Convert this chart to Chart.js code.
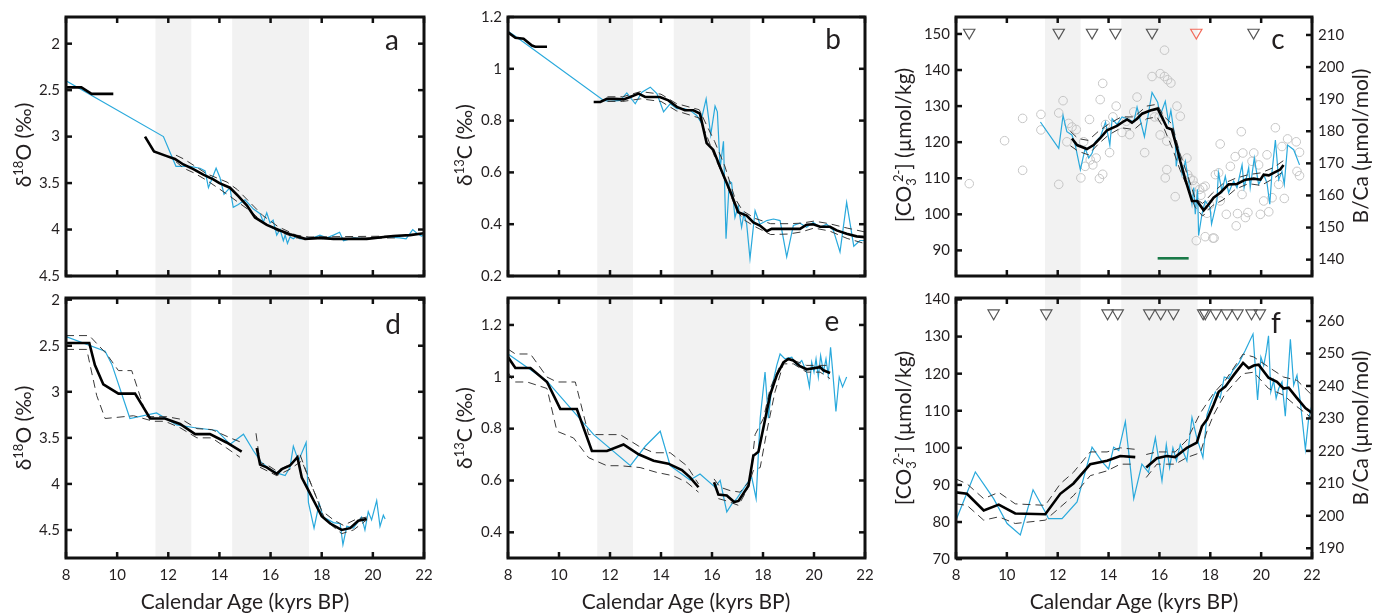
<!DOCTYPE html>
<html>
<head>
<meta charset="utf-8">
<script src="https://cdn.jsdelivr.net/npm/chart.js@4.4.1/dist/chart.umd.min.js"></script>
<style>
body { margin: 0; background: #fff; width: 1380px; height: 613px; position: relative; overflow: hidden; font-family: Lato, 'Open Sans', sans-serif; color: #231f20; }
canvas { position: absolute; }
.lbl { position: absolute; white-space: nowrap; transform: translate(-50%, -50%); line-height: 1; }
.yt { font-size: 21px; transform: translate(-50%, -50%) rotate(-90deg); }
.xt { font-size: 21px; }
.let { font-size: 28px; }
sup, sub { font-size: 0.62em; line-height: 0; }
</style>
</head>
<body>
<script>
// shared axis / shading
const ageTicks = [8, 10, 12, 14, 16, 18, 20, 22];
const bands = [[11.5, 12.9], [14.5, 17.5]];

// panel a: d18O
const aTicks = [2, 2.5, 3, 3.5, 4, 4.5];
const aMeanTop = [[8, 2.47], [8.6, 2.47], [9.0, 2.54], [9.85, 2.54]];
const aMean = [[11.09, 3.0], [11.44, 3.16], [11.94, 3.21], [12.26, 3.24], [12.59, 3.30], [12.98, 3.35], [13.37, 3.41], [13.76, 3.46], [14.0, 3.50], [14.41, 3.55], [14.74, 3.64], [15.07, 3.74], [15.39, 3.87], [15.85, 3.95], [16.37, 4.01], [16.76, 4.05], [17.35, 4.10], [17.93, 4.09], [18.46, 4.10], [19.76, 4.10], [20.8, 4.07], [21.45, 4.06], [22, 4.04]];
const aBlue = [[8, 2.40], [11.81, 3.0], [12.3, 3.32], [12.52, 3.32], [12.85, 3.32], [13.24, 3.34], [13.44, 3.37], [13.57, 3.55], [13.7, 3.46], [13.87, 3.34], [14.02, 3.44], [14.18, 3.62], [14.41, 3.55], [14.54, 3.76], [14.74, 3.73], [15.0, 3.68], [15.33, 3.78], [15.59, 3.83], [15.72, 3.92], [15.85, 3.82], [15.98, 3.93], [16.1, 3.90], [16.24, 4.06], [16.37, 4.0], [16.5, 4.12], [16.57, 4.06], [16.66, 4.15], [16.76, 4.08], [16.89, 4.1], [17.02, 4.07], [17.15, 4.10], [17.67, 4.09], [17.93, 4.06], [18.2, 4.09], [18.46, 4.06], [18.7, 4.03], [18.85, 4.12], [19.24, 4.09], [19.76, 4.10], [20.15, 4.09], [20.54, 4.08], [21.06, 4.09], [21.3, 4.10], [21.56, 4.0], [21.72, 4.04], [21.9, 4.07], [22, 4.06]];
const aDashA = [[12.3, 3.20], [12.6, 3.24], [13.0, 3.31], [13.5, 3.40], [14.3, 3.49], [14.7, 3.57], [15.2, 3.71], [15.7, 3.85], [16.3, 3.97], [17.0, 4.06], [17.5, 4.08], [21, 4.07]];
const aDashB = [[12.3, 3.27], [12.6, 3.34], [13.0, 3.39], [13.5, 3.47], [14.3, 3.62], [14.7, 3.70], [15.2, 3.80], [15.7, 3.92], [16.3, 4.02], [17.0, 4.09], [17.5, 4.10], [21, 4.09]];

// panel b: d13C
const bTicks = [0.2, 0.4, 0.6, 0.8, 1, 1.2];
const bMeanTop = [[8, 1.141], [8.29, 1.12], [8.61, 1.116], [8.94, 1.09], [9.07, 1.085], [9.53, 1.085]];
const bMean = [[11.36, 0.872], [11.62, 0.872], [11.88, 0.884], [12.14, 0.884], [12.53, 0.882], [12.79, 0.891], [13.12, 0.904], [13.38, 0.891], [13.96, 0.891], [14.29, 0.878], [14.62, 0.853], [14.94, 0.84], [15.27, 0.84], [15.53, 0.827], [15.6, 0.795], [15.79, 0.713], [16.05, 0.687], [16.38, 0.605], [16.71, 0.528], [17.03, 0.446], [17.36, 0.433], [17.62, 0.407], [17.88, 0.395], [18.15, 0.373], [18.34, 0.382], [18.67, 0.382], [19.19, 0.382], [19.45, 0.382], [19.71, 0.398], [19.97, 0.4], [20.24, 0.39], [20.63, 0.39], [20.89, 0.376], [21.28, 0.363], [21.67, 0.353], [22, 0.35]];
const bBlue = [[8, 1.145], [8.29, 1.126], [11.75, 0.878], [12.01, 0.874], [12.4, 0.878], [12.66, 0.907], [12.99, 0.865], [13.25, 0.91], [13.58, 0.929], [13.84, 0.904], [14.1, 0.834], [14.36, 0.865], [14.62, 0.846], [14.88, 0.846], [15.14, 0.84], [15.4, 0.82], [15.56, 0.795], [15.77, 0.884], [15.95, 0.745], [16.12, 0.856], [16.21, 0.834], [16.32, 0.617], [16.45, 0.72], [16.55, 0.344], [16.68, 0.566], [16.77, 0.56], [16.9, 0.426], [17.03, 0.471], [17.16, 0.388], [17.25, 0.44], [17.36, 0.4], [17.49, 0.267], [17.69, 0.452], [17.88, 0.4], [18.15, 0.414], [18.41, 0.42], [18.67, 0.414], [18.93, 0.274], [19.19, 0.395], [19.45, 0.404], [19.71, 0.388], [19.97, 0.407], [20.24, 0.388], [20.5, 0.4], [20.76, 0.376], [21.02, 0.293], [21.28, 0.484], [21.56, 0.315], [21.8, 0.337], [22, 0.337]];
const bDashA = [[11.9, 0.892], [12.5, 0.892], [13.2, 0.912], [14.0, 0.902], [14.6, 0.866], [15.5, 0.842], [15.8, 0.78], [16.1, 0.72], [16.5, 0.625], [16.9, 0.5], [17.2, 0.452], [17.7, 0.422], [18.3, 0.402], [19.0, 0.402], [19.5, 0.404], [20.0, 0.412], [20.6, 0.402], [21.3, 0.385], [22, 0.37]];
const bDashB = [[11.9, 0.874], [12.5, 0.874], [13.2, 0.884], [14.0, 0.874], [14.6, 0.838], [15.5, 0.81], [15.8, 0.74], [16.1, 0.662], [16.5, 0.572], [16.9, 0.47], [17.2, 0.42], [17.7, 0.39], [18.3, 0.36], [19.0, 0.362], [19.5, 0.37], [20.0, 0.385], [20.6, 0.374], [21.3, 0.345], [22, 0.325]];

// panel c: [CO3 2-] and B/Ca
const cTicks = [90, 100, 110, 120, 130, 140, 150];
const cTicksR = [140, 150, 160, 170, 180, 190, 200, 210];
const cTriAge = [8.52, 12.04, 13.35, 14.27, 15.71, 19.7];
const cRedTriAge = [17.45];
const cMean = [[12.56, 121.0], [12.76, 119.2], [13.15, 118.1], [13.41, 119.2], [13.68, 121.2], [13.94, 123.3], [14.33, 124.5], [14.6, 125.8], [14.73, 126.3], [14.92, 125.4], [15.12, 126.5], [15.32, 127.9], [15.64, 128.8], [15.93, 129.3], [16.03, 127.9], [16.3, 124.0], [16.49, 123.5], [16.66, 119.2], [16.82, 114.7], [17.02, 109.6], [17.28, 103.7], [17.48, 103.7], [17.74, 101.1], [17.94, 102.8], [18.13, 104.6], [18.39, 106.0], [18.72, 108.3], [19.05, 108.4], [19.38, 109.6], [19.71, 109.9], [19.97, 109.6], [20.1, 111.0], [20.3, 110.8], [20.49, 111.5], [20.75, 112.4], [20.88, 113.7]];
const cBlue = [[11.32, 125.6], [12.04, 118.3], [12.21, 127.4], [12.36, 122.9], [12.56, 122], [12.69, 119.2], [12.89, 112.4], [13.08, 118.3], [13.22, 115.6], [13.35, 116.9], [13.48, 120.1], [13.68, 121.5], [13.88, 125.6], [14.05, 119.2], [14.14, 126.5], [14.33, 124.9], [14.53, 127], [14.73, 126.5], [14.99, 125.6], [15.12, 129.7], [15.41, 121.5], [15.71, 133.8], [15.93, 131.1], [16.03, 127.4], [16.23, 131.3], [16.36, 125.6], [16.45, 128.8], [16.62, 120.6], [16.66, 113.3], [16.76, 117.9], [16.89, 111.0], [17.02, 114.7], [17.15, 109.2], [17.28, 102.8], [17.35, 107.4], [17.41, 100.0], [17.5, 106.9], [17.54, 94.1], [17.67, 100.0], [17.8, 103.7], [17.99, 101.9], [18.05, 97.3], [18.26, 103.7], [18.32, 111.5], [18.46, 106.4], [18.59, 110.5], [18.72, 106.0], [18.92, 109.2], [19.05, 107.4], [19.25, 113.7], [19.33, 107.4], [19.51, 112.9], [19.57, 107.4], [19.73, 115.6], [19.9, 108.3], [20.1, 111.0], [20.23, 108.7], [20.34, 102.8], [20.43, 111.9], [20.56, 120.6], [20.69, 109.6], [20.82, 111.9], [20.91, 108.3], [21.04, 119.2], [21.28, 117.9], [21.51, 113.7]];
const cDashA = [[12.5, 123], [12.8, 121], [13.2, 120.5], [13.6, 123], [14.0, 125], [14.5, 127], [15.0, 127], [15.5, 130], [15.9, 130.5], [16.2, 127], [16.5, 125], [16.8, 117], [17.1, 111], [17.4, 104.5], [17.7, 103], [18.1, 106], [18.5, 108.5], [19, 110], [19.5, 111], [20, 111.5], [20.5, 113], [20.9, 115]];
const cDashB = [[12.5, 119], [12.8, 117.5], [13.2, 116.5], [13.6, 119.5], [14.0, 122], [14.5, 124], [15.0, 123.5], [15.5, 126.5], [15.9, 127], [16.2, 123.5], [16.5, 118.5], [16.8, 112.5], [17.1, 107.5], [17.4, 102], [17.7, 99.5], [18.1, 102.5], [18.5, 104], [19, 107], [19.5, 108.5], [20, 108], [20.5, 110], [20.9, 112]];
const cGreen = [[15.93, 87.8], [17.15, 87.8]];
const cCircles = [[8.52, 108.5], [9.91, 120.4], [10.62, 112.2], [10.62, 126.6], [11.34, 127.7], [11.34, 123.4], [12.04, 128.1], [12.04, 108.3], [12.21, 131.5], [12.36, 120.1], [12.43, 125.2], [12.56, 124.2], [12.73, 123.5], [12.91, 110.1], [13.02, 120.1], [13.08, 113.3], [13.25, 126.3], [13.28, 115.1], [13.38, 113.7], [13.51, 115.6], [13.64, 109.9], [13.67, 131.8], [13.77, 111.1], [13.77, 136.3], [13.88, 124.9], [14.04, 117.1], [14.17, 127.0], [14.30, 130.0], [14.53, 122.7], [14.70, 125.8], [14.83, 122.1], [14.99, 128.4], [15.12, 132.5], [15.42, 117.1], [15.71, 138.2], [15.81, 127.0], [15.99, 127.0], [16.03, 122.0], [16.03, 139.0], [16.20, 138.2], [16.20, 145.5], [16.32, 137.3], [16.45, 136.4], [16.29, 120.3], [16.29, 112.4], [16.23, 110.1], [16.62, 104.9], [16.69, 130.0], [16.82, 127.2], [17.08, 115.6], [17.11, 111.0], [17.21, 109.9], [17.32, 109.4], [17.41, 107.8], [17.45, 92.7], [17.58, 106.9], [17.63, 105.3], [17.71, 107.4], [17.80, 107.8], [17.80, 93.8], [17.87, 100.3], [17.97, 102.6], [18.10, 93.4], [18.15, 93.4], [18.20, 111.0], [18.33, 111.5], [18.39, 119.5], [18.39, 103.7], [18.63, 100.0], [18.79, 113.3], [18.98, 116.0], [19.02, 96.8], [19.07, 100.2], [19.22, 122.9], [19.25, 105.5], [19.28, 117.0], [19.38, 99.1], [19.48, 100.5], [19.64, 114.7], [19.71, 117.0], [19.90, 113.7], [19.97, 100.0], [20.10, 103.7], [20.23, 116.5], [20.30, 100.7], [20.43, 104.6], [20.56, 124.0], [20.69, 108.3], [20.82, 118.8], [20.91, 104.4], [21.04, 120.9], [21.38, 120.1], [21.41, 111.9], [21.51, 117.2], [21.51, 110.7]];

// panel d: d18O
const dTicks = [2, 2.5, 3, 3.5, 4, 4.5];
const dMean1 = [[8, 2.47], [8.91, 2.47], [9.13, 2.71], [9.46, 2.92], [10.05, 3.02], [10.70, 3.02], [11.29, 3.29], [11.87, 3.29], [12.46, 3.35], [13.05, 3.46], [13.63, 3.46], [14.28, 3.55], [14.87, 3.65]];
const dMean2 = [[15.46, 3.61], [15.59, 3.79], [15.85, 3.82], [16.24, 3.89], [16.44, 3.84], [16.76, 3.80], [17.05, 3.71], [17.22, 3.93], [17.48, 4.07], [17.74, 4.21], [18.0, 4.35], [18.33, 4.43], [18.78, 4.5], [19.11, 4.48], [19.43, 4.40], [19.76, 4.38]];
const dBlue = [[8, 2.40], [9.53, 2.56], [9.79, 2.70], [10.5, 3.29], [11.54, 3.23], [12.33, 3.36], [13.05, 3.39], [13.9, 3.42], [14.42, 3.57], [14.94, 3.46], [15.33, 3.64], [15.65, 3.77], [15.98, 3.84], [16.24, 3.88], [16.57, 3.91], [16.76, 3.82], [16.89, 3.59], [17.09, 3.75], [17.39, 3.55], [17.48, 4.2], [17.7, 4.48], [17.9, 4.21], [18.06, 4.36], [18.46, 4.42], [18.72, 4.43], [18.83, 4.66], [18.98, 4.46], [19.24, 4.48], [19.56, 4.36], [19.69, 4.5], [19.82, 4.3], [19.95, 4.39], [20.15, 4.18], [20.28, 4.46], [20.41, 4.34], [20.48, 4.38]];
const dDashA1 = [[8, 2.39], [8.91, 2.39], [9.59, 2.59], [10.05, 2.77], [10.57, 2.77], [11.16, 3.27], [11.94, 3.27], [12.53, 3.30], [13.12, 3.40], [13.7, 3.41], [14.42, 3.50], [14.87, 3.55]];
const dDashB1 = [[8, 2.54], [8.81, 2.54], [9.2, 3.04], [9.53, 3.29], [10.64, 3.26], [11.42, 3.32], [11.87, 3.32], [12.46, 3.39], [13.12, 3.50], [13.7, 3.5], [14.28, 3.61], [14.8, 3.71]];
const dDashA2 = [[15.43, 3.45], [15.59, 3.77], [15.85, 3.79], [16.24, 3.86], [16.76, 3.79], [17.15, 3.68], [17.48, 3.93], [18.0, 4.29], [18.46, 4.39], [18.85, 4.45], [19.37, 4.38], [19.76, 4.36]];
const dDashB2 = [[15.59, 3.82], [16.24, 3.91], [16.76, 3.84], [17.22, 3.75], [17.74, 4.11], [18.13, 4.39], [18.78, 4.54], [19.24, 4.5], [19.76, 4.39]];

// panel e: d13C
const eTicks = [0.4, 0.6, 0.8, 1, 1.2];
const eMean1 = [[8, 1.076], [8.29, 1.034], [8.88, 1.034], [9.53, 0.98], [10.05, 0.876], [10.70, 0.876], [11.29, 0.714], [11.88, 0.714], [12.53, 0.739], [13.12, 0.701], [13.71, 0.676], [14.29, 0.665], [14.82, 0.64], [15.14, 0.612], [15.47, 0.574]];
const eMean2 = [[16.08, 0.593], [16.25, 0.546], [16.58, 0.542], [16.87, 0.517], [17.04, 0.521], [17.43, 0.58], [17.62, 0.695], [17.82, 0.711], [18.04, 0.815], [18.28, 0.93], [18.54, 1.006], [18.8, 1.056], [18.99, 1.069], [19.19, 1.063], [19.45, 1.041], [19.71, 1.029], [20.24, 1.037], [20.37, 1.025], [20.63, 1.015]];
const eBlue = [[8, 1.088], [9.53, 0.983], [11.36, 0.777], [12.8, 0.657], [13.39, 0.733], [13.97, 0.79], [14.36, 0.657], [15.14, 0.602], [15.53, 0.625], [16.12, 0.574], [16.32, 0.6], [16.58, 0.479], [16.78, 0.51], [16.97, 0.53], [17.36, 0.587], [17.56, 0.612], [17.73, 0.53], [17.89, 0.84], [18.08, 1.018], [18.21, 0.84], [18.34, 0.955], [18.54, 1.044], [18.67, 1.088], [18.86, 1.069], [19.13, 1.076], [19.32, 1.044], [19.52, 1.063], [19.71, 1.018], [19.82, 0.961], [19.91, 1.056], [20.0, 1.018], [20.08, 1.069], [20.17, 0.999], [20.26, 1.082], [20.37, 1.018], [20.47, 1.069], [20.56, 1.006], [20.65, 1.114], [20.73, 1.025], [20.86, 0.866], [20.99, 0.999], [21.12, 0.961], [21.28, 0.999]];
const eDashA1 = [[8, 1.107], [8.29, 1.088], [8.88, 1.088], [9.53, 0.999], [9.92, 0.98], [10.64, 0.98], [11.16, 0.777], [11.88, 0.777], [12.4, 0.777], [13.12, 0.733], [13.71, 0.707], [14.36, 0.707], [15.01, 0.657], [15.47, 0.587]];
const eDashB1 = [[8, 1.018], [8.22, 0.98], [8.75, 0.98], [9.53, 0.955], [9.92, 0.79], [10.57, 0.764], [11.16, 0.688], [11.88, 0.657], [12.4, 0.657], [13.18, 0.65], [13.84, 0.631], [14.49, 0.618], [15.01, 0.593], [15.47, 0.555]];
const eDashA2 = [[16.08, 0.606], [16.32, 0.574], [16.71, 0.561], [17.1, 0.555], [17.49, 0.6], [17.69, 0.777], [18.02, 0.84], [18.28, 0.955], [18.67, 1.044], [19.06, 1.069], [19.71, 1.044], [20.63, 1.044]];
const eDashB2 = [[16.25, 0.53], [16.58, 0.521], [17.04, 0.504], [17.36, 0.561], [17.62, 0.638], [17.89, 0.65], [18.15, 0.79], [18.47, 0.942], [18.8, 1.05], [19.19, 1.05], [19.71, 1.018], [20.24, 1.018], [20.63, 0.993]];

// panel f: [CO3 2-] and B/Ca
const fTicks = [70, 80, 90, 100, 110, 120, 130, 140];
const fTicksR = [190, 200, 210, 220, 230, 240, 250, 260];
const fTriAge = [9.48, 11.55, 13.96, 14.36, 15.6, 16.05, 16.55, 17.72, 17.8, 18.22, 18.65, 19.07, 19.62, 19.95];
const fMean1 = [[8, 88.0], [8.43, 87.6], [9.09, 83.1], [9.68, 84.7], [10.33, 82.3], [11.51, 82.1], [12.1, 87.6], [12.62, 90.4], [13.28, 95.6], [13.94, 96.5], [14.46, 97.8], [15.05, 97.5]];
const fMean2 = [[15.48, 94.7], [15.9, 97.2], [16.29, 97.8], [16.62, 97.5], [17.08, 100.0], [17.47, 101.4], [17.67, 105.8], [17.87, 107.6], [18.13, 111.6], [18.33, 115.1], [18.59, 116.5], [18.92, 119.6], [19.29, 122.9], [19.51, 121.5], [19.71, 122.2], [19.9, 122.4], [20.29, 118.9], [20.62, 117.8], [20.88, 116.0], [21.08, 116.2], [21.41, 113.4], [21.74, 110.7], [22, 109.4]];
const fBlue = [[8, 80.5], [8.76, 93.5], [9.48, 86.3], [10.01, 79.6], [10.53, 76.5], [11.03, 88.7], [11.51, 82.7], [11.64, 80.9], [12.17, 80.9], [12.76, 85.4], [13.35, 100.2], [13.74, 96.3], [14.0, 94.3], [14.2, 100.2], [14.4, 99.3], [14.66, 107.1], [14.99, 86.3], [15.31, 95.6], [15.57, 93.4], [15.84, 102.7], [16.1, 91.1], [16.27, 100.9], [16.4, 94.7], [16.53, 100.0], [16.67, 96.5], [16.82, 100.9], [17.08, 96.5], [17.28, 108.2], [17.47, 102.7], [17.71, 97.4], [17.87, 108.9], [18.0, 111.6], [18.2, 115.1], [18.39, 113.4], [18.55, 119.1], [18.72, 118.7], [18.89, 120.9], [19.11, 122.7], [19.37, 126.2], [19.68, 130.7], [19.86, 112.9], [19.99, 124.5], [20.1, 122.2], [20.2, 125.8], [20.29, 130.2], [20.38, 115.1], [20.49, 118.2], [20.59, 113.4], [20.69, 116.0], [20.82, 117.8], [20.95, 108.5], [21.15, 129.3], [21.28, 116.9], [21.41, 119.6], [21.54, 112.5], [21.74, 99.6], [21.87, 108.0], [22, 111.6]];
const fDashA1 = [[8, 91.6], [8.43, 90.3], [9.09, 86.3], [9.68, 88.0], [10.33, 84.9], [11.51, 84.5], [12.1, 90.3], [12.62, 93.4], [13.28, 98.9], [13.94, 98.9], [14.46, 100.0], [15.05, 99.6]];
const fDashB1 = [[8, 84.9], [8.43, 84.5], [9.09, 80.5], [9.68, 81.4], [10.33, 79.6], [11.51, 80.5], [12.1, 84.0], [12.62, 87.1], [13.28, 92.5], [13.94, 93.8], [14.46, 95.6], [15.05, 95.6]];
const fDashA2 = [[15.48, 98.2], [15.9, 98.9], [16.62, 98.9], [17.08, 102.1], [17.61, 109.4], [18.13, 114.7], [18.59, 118.2], [19.29, 125.3], [19.71, 124.5], [20.29, 121.8], [20.88, 119.1], [21.41, 118.2], [22, 114.2]];
const fDashB2 = [[15.48, 92.0], [15.9, 95.6], [16.62, 95.6], [17.08, 97.4], [17.61, 98.7], [17.87, 104.5], [18.13, 108.9], [18.59, 114.7], [19.29, 120.0], [19.71, 120.4], [20.29, 116.0], [20.88, 114.2], [21.41, 111.1], [22, 108.0]];

Chart.defaults.font.family = "Lato, 'Open Sans', sans-serif";
Chart.defaults.font.size = 15;
Chart.defaults.color = '#231f20';

const PAD = { l: 52, r: 52, t: 12, b: 30 };

const pts = arr => arr.map(([x, y]) => ({ x, y }));
const mean = arr => ({ data: pts(arr), borderColor: '#000', borderWidth: 2.6, pointRadius: 0 });
const blue = arr => ({ data: pts(arr), borderColor: '#29a9dc', borderWidth: 1.2, pointRadius: 0 });
const dash = arr => ({ data: pts(arr), borderColor: '#3a3a3a', borderWidth: 1, borderDash: [8, 5], pointRadius: 0 });
const tri = (ages, y, col) => ({
    data: ages.map(x => ({ x, y })), showLine: false, pointStyle: 'triangle', pointRotation: 180,
    pointRadius: 6.5, pointBorderColor: col, pointBackgroundColor: 'rgba(0,0,0,0)', pointBorderWidth: 1.2
});

// shading, frame and inward ticks
const deco = {
    id: 'deco',
    beforeDatasetsDraw(chart, args, o) {
        const { ctx, chartArea: a, scales: { x } } = chart;
        ctx.save();
        ctx.fillStyle = '#f2f2f2';
        bands.forEach(([s, e]) => {
            const x0 = x.getPixelForValue(s), x1 = x.getPixelForValue(e);
            ctx.fillRect(x0, a.top, x1 - x0, a.bottom - a.top + (o.extend || 0));
        });
        ctx.restore();
    },
    afterDatasetsDraw(chart) {
        const { ctx, chartArea: a, scales } = chart;
        const L = 6;
        const line = (x0, y0, x1, y1) => { ctx.beginPath(); ctx.moveTo(x0, y0); ctx.lineTo(x1, y1); ctx.stroke(); };
        ctx.save();
        ctx.strokeStyle = '#111';
        ctx.lineWidth = 2.5;
        scales.x.ticks.forEach(t => {
            const p = scales.x.getPixelForValue(t.value);
            line(p, a.bottom, p, a.bottom - L);
            line(p, a.top, p, a.top + L);
        });
        scales.y.ticks.forEach(t => {
            const p = scales.y.getPixelForValue(t.value);
            line(a.left, p, a.left + L, p);
            if (!scales.y2) line(a.right, p, a.right - L, p);
        });
        if (scales.y2) {
            scales.y2.ticks.forEach(t => {
                const p = scales.y2.getPixelForValue(t.value);
                line(a.right, p, a.right - L, p);
            });
        }
        ctx.lineWidth = 3;
        ctx.strokeRect(a.left, a.top, a.right - a.left, a.bottom - a.top);
        ctx.restore();
    }
};

function makePanel(box, cfg) {
    const cv = document.createElement('canvas');
    cv.width = box.r - box.l + PAD.l + PAD.r;
    cv.height = box.b - box.t + PAD.t + PAD.b;
    cv.style.left = (box.l - PAD.l) + 'px';
    cv.style.top = (box.t - PAD.t) + 'px';
    document.body.appendChild(cv);

    const yAxis = (min, max, ticks, pos) => ({
        type: 'linear', position: pos, min, max,
        grid: { display: false, drawTicks: false }, border: { display: false },
        ticks: { padding: 6, callback: v => String(v) },
        afterBuildTicks: s => { s.ticks = ticks.map(v => ({ value: v })); },
        afterFit: s => { s.width = pos === 'left' ? PAD.l : PAD.r; }
    });

    const scales = {
        x: {
            type: 'linear', min: 8, max: 22,
            grid: { display: false, drawTicks: false }, border: { display: false },
            ticks: { display: cfg.xLabels, padding: 8, callback: v => String(v) },
            afterBuildTicks: s => { s.ticks = ageTicks.map(v => ({ value: v })); },
            afterFit: s => { s.height = PAD.b; }
        },
        y: Object.assign(yAxis(cfg.yMin, cfg.yMax, cfg.yTicks, 'left'), { reverse: !!cfg.reverse })
    };
    if (cfg.y2) scales.y2 = yAxis(cfg.y2.min, cfg.y2.max, cfg.y2.ticks, 'right');

    new Chart(cv, {
        type: 'line',
        data: { datasets: cfg.datasets },
        options: {
            responsive: false,
            animation: false,
            events: [],
            layout: { padding: { top: PAD.t, right: cfg.y2 ? 0 : PAD.r, left: 0, bottom: 0 } },
            plugins: { legend: { display: false }, tooltip: { enabled: false }, deco: { extend: cfg.extend || 0 } },
            scales
        },
        plugins: [deco]
    });
}

makePanel({ l: 66, r: 424, t: 14, b: 276 }, {
    yMin: 1.713, yMax: 4.5, yTicks: aTicks, reverse: true, xLabels: false, extend: 19,
    datasets: [mean(aMeanTop), mean(aMean), dash(aDashA), dash(aDashB), blue(aBlue)]
});
makePanel({ l: 508, r: 865, t: 14, b: 276 }, {
    yMin: 0.2, yMax: 1.2, yTicks: bTicks, xLabels: false, extend: 19,
    datasets: [mean(bMeanTop), mean(bMean), dash(bDashA), dash(bDashB), blue(bBlue)]
});
makePanel({ l: 956, r: 1312, t: 14, b: 276 }, {
    yMin: 82.9, yMax: 154.7, yTicks: cTicks, xLabels: false, extend: 19,
    y2: { min: 134.9, max: 215.6, ticks: cTicksR },
    datasets: [
        tri(cTriAge, 150.4, '#555'), tri(cRedTriAge, 150.4, '#f26b5b'),
        mean(cMean), dash(cDashA), dash(cDashB), blue(cBlue),
        { data: pts(cGreen), borderColor: '#1a7a48', borderWidth: 2.6, pointRadius: 0 },
        { data: pts(cCircles), showLine: false, pointRadius: 4.3, pointBorderColor: '#c6c6c6', pointBackgroundColor: 'rgba(0,0,0,0)', pointBorderWidth: 1 }
    ]
});
makePanel({ l: 66, r: 424, t: 295, b: 558 }, {
    yMin: 1.982, yMax: 4.804, yTicks: dTicks, reverse: true, xLabels: true,
    datasets: [mean(dMean1), mean(dMean2), dash(dDashA1), dash(dDashB1), dash(dDashA2), dash(dDashB2), blue(dBlue)]
});
makePanel({ l: 508, r: 865, t: 295, b: 558 }, {
    yMin: 0.301, yMax: 1.304, yTicks: eTicks, xLabels: true,
    datasets: [mean(eMean1), mean(eMean2), dash(eDashA1), dash(eDashB1), dash(eDashA2), dash(eDashB2), blue(eBlue)]
});
makePanel({ l: 956, r: 1312, t: 295, b: 558 }, {
    yMin: 70.3, yMax: 140.4, yTicks: fTicks, xLabels: true,
    y2: { min: 187.0, max: 267.1, ticks: fTicksR },
    datasets: [
        tri(fTriAge, 136.3, '#555'),
        mean(fMean1), mean(fMean2), dash(fDashA1), dash(fDashB1), dash(fDashA2), dash(fDashB2), blue(fBlue)
    ]
});

// axis titles and panel letters
const d18 = 'δ<sup>18</sup>O (‰)';
const d13 = 'δ<sup>13</sup>C (‰)';
const co3 = '[CO<sub>3</sub><sup style="margin-left:-0.3em">2-</sup>] (µmol/kg)';
const bca = 'B/Ca (µmol/mol)';
const xTitle = 'Calendar Age (kyrs BP)';
const labels = [
    ['yt', 22, 145, d18], ['yt', 463, 145, d13], ['yt', 902, 145, co3], ['yt', 1359, 146, bca],
    ['yt', 22, 428, d18], ['yt', 463, 428, d13], ['yt', 902, 428, co3], ['yt', 1359, 428, bca],
    ['xt', 245, 600, xTitle], ['xt', 686, 600, xTitle], ['xt', 1134, 600, xTitle],
    ['let', 392, 39, 'a'], ['let', 833, 38, 'b'], ['let', 1278, 38, 'c'],
    ['let', 393, 323, 'd'], ['let', 832, 320, 'e'], ['let', 1276, 322, 'f']
];
labels.forEach(([cls, x, y, html]) => {
    const el = document.createElement('div');
    el.className = 'lbl ' + cls;
    el.style.left = x + 'px';
    el.style.top = y + 'px';
    el.innerHTML = html;
    document.body.appendChild(el);
});
</script>
</body>
</html>
